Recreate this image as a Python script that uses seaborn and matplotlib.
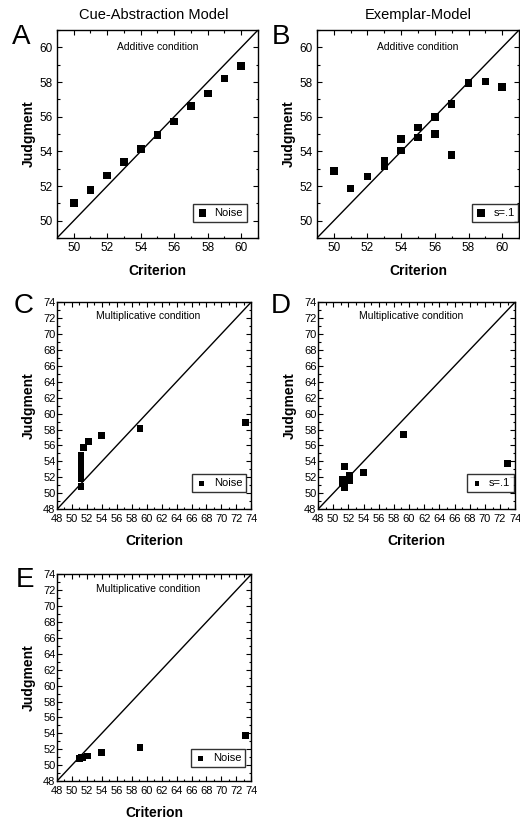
import matplotlib
matplotlib.use("Agg")
import matplotlib.pyplot as plt
import seaborn as sns
from matplotlib.ticker import MultipleLocator

sns.set_style("ticks")
plt.rcParams["font.family"] = ["Liberation Sans", "DejaVu Sans"]
plt.rcParams["text.color"] = "black"
plt.rcParams["axes.labelcolor"] = "black"

# Panel A: cue-abstraction model, additive condition
a_crit = [50, 51, 52, 53, 54, 55, 56, 57, 58, 59, 60]
a_judg = [51.02, 51.77, 52.6, 53.37, 54.13, 54.96, 55.73, 56.6, 57.33, 58.2, 58.94]

# Panel B: exemplar model, additive condition
b_crit = [50, 51, 52, 53, 53, 54, 54, 55, 55, 56, 56, 57, 57, 58, 59, 60]
b_judg = [52.88, 51.85, 52.54, 53.45, 53.12, 54.73, 54.05, 55.38, 54.81,
          55.98, 55.0, 56.75, 53.8, 57.95, 58.02, 57.7]

# Panel C: cue-abstraction model, multiplicative condition
c_crit = [51.2, 51.2, 51.2, 51.2, 51.2, 51.2, 51.2, 51.6, 52.2, 54.0, 59.1, 73.2]
c_judg = [50.9, 51.9, 52.6, 53.2, 53.9, 54.4, 54.8, 55.75, 56.45, 57.25, 58.1, 58.9]

# Panel D: exemplar model, multiplicative condition
d_crit = [51.2, 51.2, 51.5, 51.5, 52.2, 52.2, 54.0, 59.3, 73.0]
d_judg = [51.75, 51.2, 50.7, 53.4, 52.3, 51.6, 52.65, 57.4, 53.75]

# Panel E: cue-abstraction model (noise), multiplicative condition
e_crit = [51.0, 51.2, 51.4, 52.1, 54.0, 59.1, 73.2]
e_judg = [50.8, 50.95, 51.0, 51.15, 51.6, 52.25, 53.7]

add_lim = [49, 61]
mult_lim = [48, 74]

fig = plt.figure(figsize=(5.2, 8.21), dpi=100)

panels = [
    # letter, x, y, lim, legend label, condition, rect, legend anchor, letter pos, mult
    ("A", a_crit, a_judg, add_lim, "Noise", "Additive condition",
     [0.1096, 0.7101, 0.3865, 0.2533], (0.945, 0.077), (0.022, 0.946), False),
    ("B", b_crit, b_judg, add_lim, "s=.1", "Additive condition",
     [0.6096, 0.7101, 0.3885, 0.2533], (0.997, 0.077), (0.522, 0.946), False),
    ("C", c_crit, c_judg, mult_lim, "Noise", "Multiplicative condition",
     [0.1096, 0.3797, 0.3737, 0.2525], (0.973, 0.082), (0.026, 0.619), True),
    ("D", d_crit, d_judg, mult_lim, "s=.1", "Multiplicative condition",
     [0.6115, 0.3797, 0.3794, 0.2525], (0.995, 0.082), (0.521, 0.619), True),
    ("E", e_crit, e_judg, mult_lim, "Noise", "Multiplicative condition",
     [0.1096, 0.0487, 0.3737, 0.2518], (0.968, 0.068), (0.030, 0.285), True),
]

for letter, xs, ys, lim, lab, cond, rect, anchor, lpos, mult in panels:
    ax = fig.add_axes(rect)
    ax.plot(lim, lim, color="black", lw=1.0, zorder=1)
    sns.scatterplot(x=xs, y=ys, marker="s", color="black",
                    s=24 if mult else 30, edgecolor="none",
                    label=lab, ax=ax, zorder=3)
    ax.set_xlim(lim)
    ax.set_ylim(lim)
    ax.xaxis.set_major_locator(MultipleLocator(2))
    ax.yaxis.set_major_locator(MultipleLocator(2))
    ax.xaxis.set_minor_locator(MultipleLocator(1))
    ax.yaxis.set_minor_locator(MultipleLocator(1))
    tick_fs = 8.0 if mult else 8.5
    ax.tick_params(which="both", direction="in", top=True, right=True,
                   colors="black", labelsize=tick_fs, width=0.8)
    ax.tick_params(which="major", length=3.5)
    ax.tick_params(which="minor", length=1.8)
    if mult:
        ax.tick_params(axis="x", which="major", pad=3.5)
        ax.tick_params(axis="y", which="major", pad=1.0)
    else:
        ax.tick_params(which="major", pad=3)
    for sp in ax.spines.values():
        sp.set_visible(True)
        sp.set_linewidth(1.0)
        sp.set_color("black")
    ax.set_xlabel("Criterion", fontsize=10, fontweight="bold",
                  labelpad=7 if mult else 7)
    ax.set_ylabel("Judgment", fontsize=10, fontweight="bold",
                  labelpad=5 if mult else 3)
    ax.text(0.5 if not mult else 0.47, 0.92 if not mult else 0.93, cond,
            transform=ax.transAxes, ha="center", va="center", fontsize=7.5)
    leg = ax.legend(loc="lower right", bbox_to_anchor=anchor, fontsize=8,
                    frameon=True, fancybox=False, handlelength=1.0,
                    handletextpad=0.6, borderpad=0.35, borderaxespad=0,
                    markerscale=0.7 if mult else 1.0)
    leg.get_frame().set_edgecolor("black")
    leg.get_frame().set_linewidth(1.0)
    fig.text(lpos[0], lpos[1], letter, fontsize=20, ha="left", va="baseline")

fig.text(0.295, 0.982, "Cue-Abstraction Model", ha="center", va="center",
         fontsize=10.5)
fig.text(0.804, 0.982, "Exemplar-Model", ha="center", va="center",
         fontsize=10.5)

fig.savefig("out.png", dpi=100, facecolor="white")
